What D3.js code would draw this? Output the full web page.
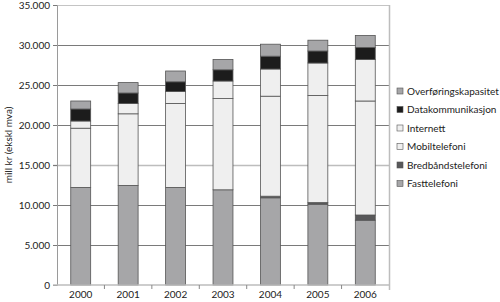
<!DOCTYPE html>
<html>
<head>
<meta charset="utf-8">
<script src="https://cdn.jsdelivr.net/npm/d3@7"></script>
<style>
  body { margin: 0; background: #fff; }
  text { font-family: Lato, "Noto Sans", sans-serif; fill: #222; }
</style>
</head>
<body>
<svg id="chart"></svg>
<script>
const width = 500, height = 302;
const margin = { top: 5, right: 111, bottom: 17, left: 57 };
const plotWidth = width - margin.left - margin.right;
const plotHeight = height - margin.top - margin.bottom;

// Data (mill kr)
const years = ["2000", "2001", "2002", "2003", "2004", "2005", "2006"];
const seriesNames = ["Fasttelefoni", "Bredbåndstelefoni", "Mobiltelefoni", "Internett", "Datakommunikasjon", "Overføringskapasitet"];
const fasttelefoni = [12200, 12450, 12200, 11900, 10900, 10100, 8100];
const bredbaandstelefoni = [0, 0, 0, 0, 200, 200, 650];
const mobiltelefoni = [7400, 8950, 10500, 11400, 12500, 13400, 14250];
const internett = [900, 1300, 1500, 2200, 3400, 4050, 5200];
const datakommunikasjon = [1500, 1300, 1200, 1400, 1600, 1500, 1500];
const overforingskapasitet = [1000, 1300, 1350, 1300, 1500, 1350, 1500];
const yTicks = [0, 5000, 10000, 15000, 20000, 25000, 30000, 35000];

const colors = ["#a6a6a8", "#58585a", "#efefef", "#efefef", "#1c1c1c", "#a6a6a8"];

const table = years.map((y, i) => ({
  year: y,
  "Fasttelefoni": fasttelefoni[i],
  "Bredbåndstelefoni": bredbaandstelefoni[i],
  "Mobiltelefoni": mobiltelefoni[i],
  "Internett": internett[i],
  "Datakommunikasjon": datakommunikasjon[i],
  "Overføringskapasitet": overforingskapasitet[i]
}));

const stacked = d3.stack().keys(seriesNames)(table);

const svg = d3.select("#chart")
  .attr("width", width)
  .attr("height", height);

const g = svg.append("g")
  .attr("transform", `translate(${margin.left},${margin.top})`);

const x = d3.scaleBand().domain(years).range([0, plotWidth]).paddingInner(0.58).paddingOuter(0.29);
const y = d3.scaleLinear().domain([0, 35000]).range([plotHeight, 0]);
const fmt = d => d3.format(",")(d).replace(/,/g, ".");

// gridlines
g.append("g")
  .selectAll("line")
  .data(yTicks.filter(d => d > 0))
  .join("line")
  .attr("x1", -4)
  .attr("x2", plotWidth)
  .attr("y1", d => Math.round(y(d)) + 0.5)
  .attr("y2", d => Math.round(y(d)) + 0.5)
  .attr("stroke", d => d === 35000 ? "#c4c4c4" : d === 15000 ? "#bdbdbd" : "#7a7a7a")
  .attr("stroke-width", d => d === 15000 ? 1.6 : 1);

// right frame
g.append("line")
  .attr("x1", plotWidth + 0.5).attr("x2", plotWidth + 0.5)
  .attr("y1", 0).attr("y2", plotHeight + 5)
  .attr("stroke", "#bdbdbd").attr("stroke-width", 1.5);

// y axis
const yAxis = g.append("g")
  .call(d3.axisLeft(y).tickValues(yTicks).tickFormat(fmt).tickSize(4).tickPadding(3));
yAxis.select(".domain").attr("stroke", "#9a9a9a");
yAxis.selectAll(".tick line").attr("stroke", "#7a7a7a");
yAxis.selectAll("text").attr("font-size", 10).attr("fill", "#222").style("font-family", "Lato");

// bars
g.append("g")
  .selectAll("g")
  .data(stacked)
  .join("g")
  .attr("fill", (d, i) => colors[i])
  .selectAll("rect")
  .data(d => d.filter(p => p[1] - p[0] > 0))
  .join("rect")
  .attr("x", d => x(d.data.year))
  .attr("width", x.bandwidth())
  .attr("y", d => y(d[1]))
  .attr("height", d => y(d[0]) - y(d[1]))
  .attr("stroke", "#555")
  .attr("stroke-width", 0.8);

// x axis
const xAxis = g.append("g")
  .attr("transform", `translate(0,${plotHeight})`)
  .call(d3.axisBottom(x).tickSize(0).tickPadding(6));
xAxis.select(".domain").remove();
xAxis.selectAll("text").attr("font-size", 10).attr("fill", "#222").style("font-family", "Lato");
g.append("line")
  .attr("x1", -4).attr("x2", plotWidth)
  .attr("y1", plotHeight).attr("y2", plotHeight)
  .attr("stroke", "#bdbdbd").attr("stroke-width", 1.6);
g.append("g")
  .selectAll("line")
  .data(years.slice(1))
  .join("line")
  .attr("x1", d => x(d) - x.step() * x.paddingInner() / 2)
  .attr("x2", d => x(d) - x.step() * x.paddingInner() / 2)
  .attr("y1", plotHeight)
  .attr("y2", plotHeight + 4)
  .attr("stroke", "#888");

// y label
svg.append("text")
  .attr("transform", `translate(12,${margin.top + plotHeight / 2}) rotate(-90)`)
  .attr("text-anchor", "middle")
  .attr("font-size", 10)
  .text("mill kr (ekskl mva)");

// legend (top entry is last series)
const legend = svg.append("g")
  .attr("transform", "translate(397,88)");
const legendItems = seriesNames.slice().reverse();
const legendRow = legend.selectAll("g")
  .data(legendItems)
  .join("g")
  .attr("transform", (d, i) => `translate(0,${i * 18.5})`);
legendRow.append("rect")
  .attr("width", 6).attr("height", 6)
  .attr("fill", d => colors[seriesNames.indexOf(d)])
  .attr("stroke", "#555").attr("stroke-width", 0.6);
legendRow.append("text")
  .attr("x", 10).attr("y", 6.5)
  .attr("font-size", 10)
  .text(d => d);
</script>
</body>
</html>
